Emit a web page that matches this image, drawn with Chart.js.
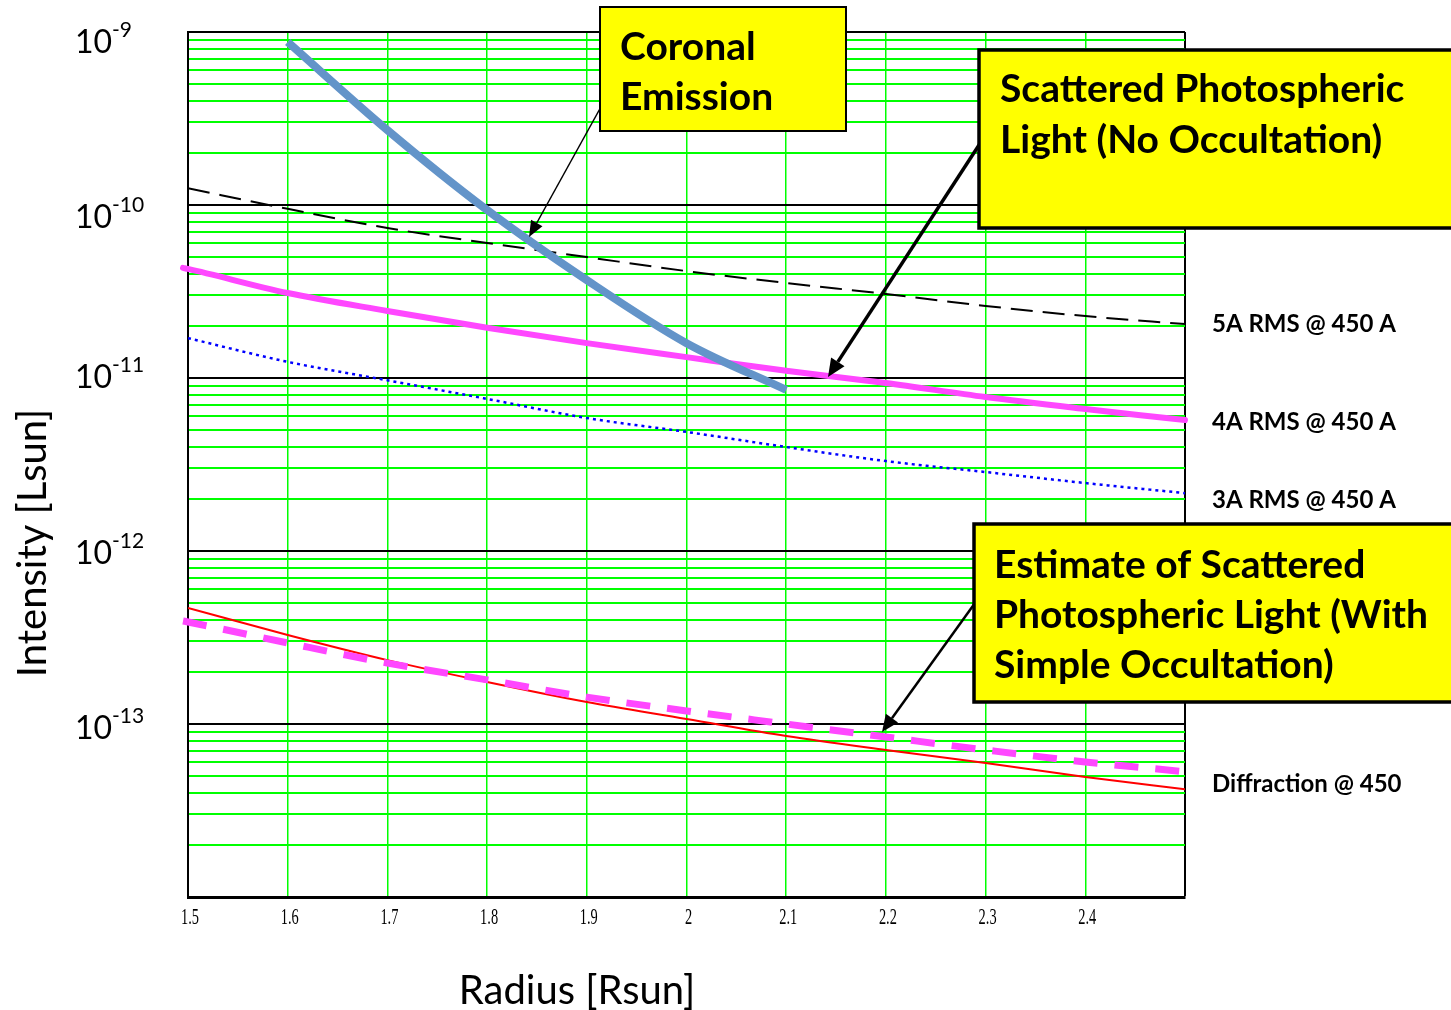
<!DOCTYPE html>
<html>
<head>
<meta charset="utf-8">
<title>Intensity vs Radius</title>
<script src="https://cdn.jsdelivr.net/npm/chart.js@4.4.1/dist/chart.umd.min.js"></script>
<style>
  html, body { margin: 0; padding: 0; background: #fff; }
  #chart { display: block; }
</style>
</head>
<body>
<canvas id="chart" width="1451" height="1010"></canvas>
<script>
// Radius grid (Rsun) and tick labels
const radius = [1.5, 1.6, 1.7, 1.8, 1.9, 2.0, 2.1, 2.2, 2.3, 2.4, 2.5];
const xTickLabels = ['1.5', '1.6', '1.7', '1.8', '1.9', '2', '2.1', '2.2', '2.3', '2.4'];
const yTickExponents = [-9, -10, -11, -12, -13];

// Coronal emission (only 1.6 - 2.1)
const radiusCoronal = [1.6, 1.7, 1.8, 1.9, 2.0, 2.1];
const coronal = [8.75e-10, 2.71e-10, 9.35e-11, 3.68e-11, 1.59e-11, 8.53e-12];

// Scattered light, no occultation
const rms5A = [1.25e-10, 9.5e-11, 7.36e-11, 6.03e-11, 5.0e-11, 4.15e-11, 3.54e-11, 3.06e-11, 2.61e-11, 2.28e-11, 2.05e-11];
const rms3A = [1.70e-11, 1.24e-11, 9.7e-12, 7.57e-12, 5.87e-12, 4.88e-12, 3.99e-12, 3.31e-12, 2.86e-12, 2.47e-12, 2.16e-12];

// the magenta curves run a little past the frame on both sides
const radiusWide = [1.495, 1.5, 1.6, 1.7, 1.8, 1.9, 2.0, 2.1, 2.2, 2.3, 2.4, 2.5, 2.515];
const rms4A = [4.33e-11, 4.27e-11, 3.10e-11, 2.44e-11, 1.95e-11, 1.59e-11, 1.32e-11, 1.10e-11, 9.35e-12, 7.76e-12, 6.62e-12, 5.71e-12, 5.58e-12];
const occulted = [3.94e-13, 3.89e-13, 2.94e-13, 2.25e-13, 1.80e-13, 1.43e-13, 1.19e-13, 1.0e-13, 8.41e-14, 7.08e-14, 6.03e-14, 5.28e-14, 5.14e-14];

// Diffraction @ 450
const diffraction = [4.69e-13, 3.27e-13, 2.34e-13, 1.75e-13, 1.34e-13, 1.07e-13, 8.53e-14, 7.08e-14, 5.95e-14, 4.94e-14, 4.2e-14];

// small vertical nudges of the 10^n labels (they sit a bit unevenly in the original)
const yLabelNudge = [11, 13, 0, 3, 5];

const GREEN = '#00ff00';
const MAGENTA = '#ff47ff';

function points(xs, ys) {
    return xs.map((x, i) => ({ x: x, y: ys[i] }));
}

function isDecade(v) {
    const l = Math.log10(v);
    return Math.abs(l - Math.round(l)) < 1e-6;
}

function drawBox(ctx, x0, y0, x1, y1, lw) {
    ctx.fillStyle = '#ffff00';
    ctx.fillRect(x0, y0, x1 - x0, y1 - y0);
    ctx.lineWidth = lw;
    ctx.strokeStyle = '#000';
    ctx.strokeRect(x0, y0, x1 - x0, y1 - y0);
}

function drawArrow(ctx, x0, y0, x1, y1, lw, headLen, headW) {
    const ang = Math.atan2(y1 - y0, x1 - x0);
    const bx = x1 - headLen * Math.cos(ang);
    const by = y1 - headLen * Math.sin(ang);
    ctx.strokeStyle = '#000';
    ctx.fillStyle = '#000';
    ctx.lineWidth = lw;
    ctx.beginPath();
    ctx.moveTo(x0, y0);
    ctx.lineTo(bx, by);
    ctx.stroke();
    ctx.beginPath();
    ctx.moveTo(x1, y1);
    ctx.lineTo(bx + headW / 2 * Math.sin(ang), by - headW / 2 * Math.cos(ang));
    ctx.lineTo(bx - headW / 2 * Math.sin(ang), by + headW / 2 * Math.cos(ang));
    ctx.closePath();
    ctx.fill();
}

// Labels, titles and callouts drawn on top of the chart
const overlay = {
    id: 'overlay',
    afterDraw(chart) {
        const { ctx, chartArea: area, scales } = chart;
        const xs = scales.x, ys = scales.y;
        ctx.save();
        ctx.fillStyle = '#000';
        ctx.textBaseline = 'middle';

        // x tick labels, narrow serif
        ctx.font = '24px "Liberation Serif"';
        ctx.textAlign = 'center';
        xTickLabels.forEach((label, i) => {
            ctx.save();
            ctx.translate(xs.getPixelForValue(radius[i]) + 2, area.bottom + 21);
            ctx.scale(0.6, 1);
            ctx.fillText(label, 0, 0);
            ctx.restore();
        });

        // y tick labels as 10^n
        yTickExponents.forEach((e, i) => {
            const py = ys.getPixelForValue(Math.pow(10, e)) + yLabelNudge[i];
            ctx.textAlign = 'right';
            ctx.font = '32px Lato';
            ctx.fillText('10', area.left - 76, py);
            ctx.textAlign = 'left';
            ctx.font = '21px Lato';
            ctx.fillText(String(e), area.left - 76, py - 13);
        });

        // axis titles
        ctx.font = '40px Lato';
        ctx.textAlign = 'center';
        ctx.fillText('Radius [Rsun]', 577, 991);
        ctx.save();
        ctx.translate(33, 543);
        ctx.rotate(-Math.PI / 2);
        ctx.fillText('Intensity [Lsun]', 0, 0);
        ctx.restore();

        // curve labels on the right
        ctx.font = 'bold 24px Lato';
        ctx.textAlign = 'left';
        ctx.fillText('5A RMS @ 450 A', area.right + 27, 324);
        ctx.fillText('4A RMS @ 450 A', area.right + 27, 422);
        ctx.fillText('3A RMS @ 450 A', area.right + 27, 500);
        ctx.fillText('Diffraction @ 450', area.right + 27, 784);

        // arrows
        drawArrow(ctx, 602, 105, 529, 237, 1.5, 16, 13);
        drawArrow(ctx, 981, 142, 828, 377, 3.5, 18, 16);
        drawArrow(ctx, 975, 603, 882, 732, 2.5, 17, 15);

        // callout boxes
        drawBox(ctx, 600, 7, 846, 131, 2);
        drawBox(ctx, 979, 50, 1462, 228, 3.5);
        drawBox(ctx, 974, 524, 1462, 702, 3.5);

        ctx.fillStyle = '#000';
        ctx.font = 'bold 39px Lato';
        ctx.textAlign = 'left';
        ctx.fillText('Coronal', 620, 47);
        ctx.fillText('Emission', 620, 97);
        ctx.fillText('Scattered Photospheric', 1000, 89);
        ctx.fillText('Light (No Occultation)', 1000, 140);
        ctx.fillText('Estimate of Scattered', 994, 565);
        ctx.fillText('Photospheric Light (With', 994, 615);
        ctx.fillText('Simple Occultation)', 994, 665);

        ctx.restore();
    }
};

const ctx = document.getElementById('chart').getContext('2d');

new Chart(ctx, {
    type: 'line',
    data: {
        datasets: [
            {
                label: 'Coronal Emission',
                data: points(radiusCoronal, coronal),
                borderColor: '#6394c9',
                borderWidth: 8,
                borderCapStyle: 'butt'
            },
            {
                label: '4A RMS @ 450 A',
                data: points(radiusWide, rms4A),
                borderColor: MAGENTA,
                borderWidth: 6,
                borderCapStyle: 'round',
                clip: false
            },
            {
                label: 'Estimate with simple occultation',
                data: points(radiusWide, occulted),
                borderColor: MAGENTA,
                borderWidth: 7,
                borderDash: [24, 17],
                borderCapStyle: 'butt',
                clip: false
            },
            {
                label: '5A RMS @ 450 A',
                data: points(radius, rms5A),
                borderColor: '#000000',
                borderWidth: 2,
                borderDash: [22, 10]
            },
            {
                label: '3A RMS @ 450 A',
                data: points(radius, rms3A),
                borderColor: '#0000ff',
                borderWidth: 2.5,
                borderDash: [3, 4]
            },
            {
                label: 'Diffraction @ 450',
                data: points(radius, diffraction),
                borderColor: '#ff0000',
                borderWidth: 2
            }
        ]
    },
    options: {
        responsive: false,
        animation: false,
        devicePixelRatio: 1,
        layout: { padding: { left: 188, top: 32, right: 266, bottom: 113 } },
        elements: {
            point: { radius: 0, hoverRadius: 0 },
            line: { cubicInterpolationMode: 'monotone', fill: false }
        },
        plugins: {
            legend: { display: false },
            tooltip: { enabled: false }
        },
        scales: {
            x: {
                type: 'linear',
                min: 1.5,
                max: 2.5,
                afterBuildTicks: scale => {
                    scale.ticks = radius.map(v => ({ value: v }));
                },
                ticks: { display: false },
                grid: {
                    drawTicks: false,
                    color: c => (c.tick && c.tick.value > 2.49) ? '#000' : GREEN,
                    lineWidth: c => (c.tick && c.tick.value > 2.49) ? 2 : 1.5
                },
                border: { display: true, color: '#000', width: 3 }
            },
            y: {
                type: 'logarithmic',
                min: 1e-14,
                max: 1e-9,
                afterBuildTicks: scale => {
                    const t = [];
                    for (let e = -14; e < -9; e++) {
                        for (let m = 1; m < 10; m++) t.push({ value: m * Math.pow(10, e) });
                    }
                    t.push({ value: 1e-9 });
                    scale.ticks = t;
                },
                ticks: { display: false, autoSkip: false },
                grid: {
                    drawTicks: false,
                    color: c => (c.tick && isDecade(c.tick.value)) ? '#000' : GREEN,
                    lineWidth: 2
                },
                border: { display: true, color: '#000', width: 2 }
            }
        }
    },
    plugins: [overlay]
});
</script>
</body>
</html>
